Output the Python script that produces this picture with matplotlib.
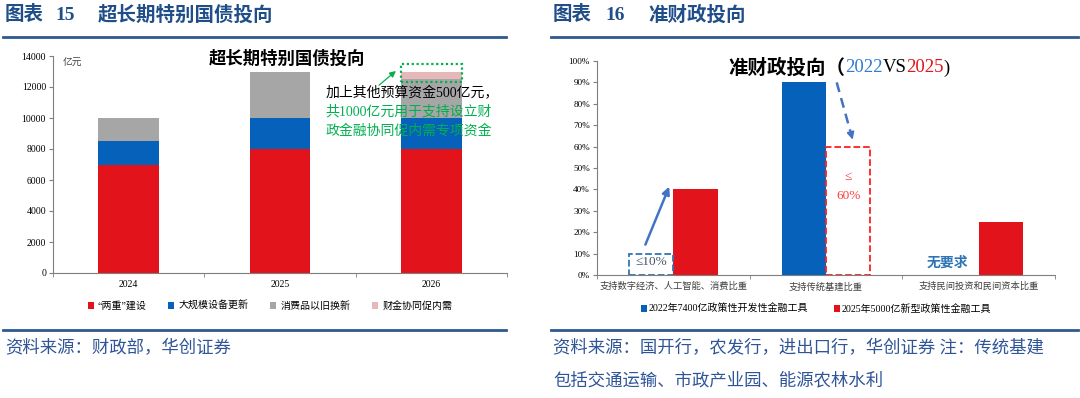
import matplotlib
matplotlib.use("Agg")
import matplotlib.pyplot as plt
from matplotlib.lines import Line2D
from matplotlib.patches import Rectangle
from matplotlib.ticker import FuncFormatter
import numpy as np

plt.rcParams['font.family'] = ['Liberation Serif', 'Noto Sans CJK SC']
plt.rcParams['axes.unicode_minus'] = False

# ---- data: chart 15 (亿元) ----
years = ['2024', '2025', '2026']
two_major = [7000, 8000, 8000]      # “两重”建设
equipment = [1500, 2000, 2000]      # 大规模设备更新
consumer = [1500, 3000, 2500]       # 消费品以旧换新
fiscal_fin = [0, 0, 500]            # 财金协同促内需

# ---- data: chart 16 (%) ----
categories = ['支持数字经济、人工智能、消费比重', '支持传统基建比重', '支持民间投资和民间资本比重']
share_2022 = [np.nan, 90, np.nan]
share_2025 = [40, np.nan, 25]
cap_2022 = [10, np.nan, np.nan]     # ≤10%
cap_2025 = [np.nan, 60, np.nan]     # ≤60%

RED = '#E3131B'
BLUE = '#0561B9'
GRAY = '#A6A6A6'
PINK = '#E6B8B7'
GREEN = '#00B050'
HEAD = '#1F4E89'
SRC = '#2F5597'
SPINE = '#7F7F7F'

W, H = 1080, 398
fig = plt.figure(figsize=(W / 100, H / 100), dpi=100)


def fx(px):
    return px / W


def fy(py):
    return 1 - py / H


def style_axes(ax):
    for s in ['top', 'right']:
        ax.spines[s].set_visible(False)
    for s in ['left', 'bottom']:
        ax.spines[s].set_color(SPINE)
        ax.spines[s].set_linewidth(0.8)
    ax.tick_params(axis='y', length=3, color=SPINE, labelsize=7, pad=2)
    ax.tick_params(axis='x', which='major', length=0, labelsize=7, pad=5)
    ax.tick_params(axis='x', which='minor', length=3, color=SPINE)
    ax.set_xticks([-0.5, 0.5, 1.5, 2.5], minor=True)
    ax.set_xlim(-0.5, 2.5)


# ---- headers, rules, sources ----
for x0, x1 in [(3, 506), (551, 1078)]:
    fig.add_artist(Line2D([fx(x0), fx(x1)], [fy(37), fy(37)], color='#2E5B8E', lw=2))
    fig.add_artist(Line2D([fx(x0), fx(x1)], [fy(330), fy(330)], color='#2E5B8E', lw=2))

fig.text(fx(5), fy(15), '图表', fontsize=14, fontweight='bold', color=HEAD, va='center')
fig.text(fx(55), fy(15), '15', fontsize=14, fontweight='bold', color=HEAD, va='center')
fig.text(fx(98), fy(15), '超长期特别国债投向', fontsize=14, fontweight='bold', color=HEAD, va='center')
fig.text(fx(553), fy(15), '图表', fontsize=14, fontweight='bold', color=HEAD, va='center')
fig.text(fx(605), fy(15), '16', fontsize=14, fontweight='bold', color=HEAD, va='center')
fig.text(fx(648), fy(15), '准财政投向', fontsize=14, fontweight='bold', color=HEAD, va='center')

fig.text(fx(5), fy(349), '资料来源：财政部，华创证券', fontsize=12.5, style='italic',
         color=SRC, va='center')
fig.text(fx(553), fy(349), '资料来源：国开行，农发行，进出口行，华创证券 注：传统基建',
         fontsize=12.5, style='italic', color=SRC, va='center')
fig.text(fx(553), fy(381), '包括交通运输、市政产业园、能源农林水利', fontsize=12.5,
         style='italic', color=SRC, va='center')

# ---- chart 15 ----
ax1 = fig.add_axes([fx(53), fy(273), fx(454), (273 - 56) / H])
x = np.arange(len(years))
bw = 0.4
b1 = np.array(two_major)
b2 = b1 + np.array(equipment)
b3 = b2 + np.array(consumer)
h1 = ax1.bar(x, two_major, bw, color=RED, label='“两重”建设')
h2 = ax1.bar(x, equipment, bw, bottom=b1, color=BLUE, label='大规模设备更新')
h3 = ax1.bar(x, consumer, bw, bottom=b2, color=GRAY, label='消费品以旧换新')
h4 = ax1.bar(x, fiscal_fin, bw, bottom=b3, color=PINK, label='财金协同促内需')
style_axes(ax1)
ax1.set_ylim(0, 14000)
ax1.set_yticks(np.arange(0, 14001, 2000))
ax1.set_xticks(x)
ax1.set_xticklabels(years)
ax1.text(0.022, 0.968, '亿元', transform=ax1.transAxes, fontsize=7, color='#404040',
         va='center')

# dotted box around the 2026 fiscal-finance slice
top = b3[2] + fiscal_fin[2]
ax1.add_patch(Rectangle((x[2] - bw / 2, b3[2] - 200), bw, fiscal_fin[2] + 700, fill=False,
                        edgecolor=GREEN, lw=1.6, linestyle=(0, (1, 1.2))))
ax1.annotate('', xy=(x[2] - 0.22, top + 150), xytext=(1.64, 12000),
             arrowprops=dict(arrowstyle='-|>', color=GREEN, lw=0.9, mutation_scale=9))
ax1.text(1.30, 11620, '加上其他预算资金500亿元，', fontsize=10, color='black', va='center')
ax1.text(1.30, 10390, '共1000亿元用于支持设立财', fontsize=10, color=GREEN, va='center')
ax1.text(1.30, 9160, '政金融协同促内需专项资金', fontsize=10, color=GREEN, va='center')

fig.text(fx(287), fy(59), '超长期特别国债投向', fontsize=12.5, fontweight='bold',
         ha='center', va='center')
fig.legend(handles=[h1, h2, h3, h4], loc='center', bbox_to_anchor=(fx(270), fy(306)),
           ncol=4, frameon=False, fontsize=7.2, handlelength=0.6, handleheight=0.6,
           handletextpad=0.4, columnspacing=2.2)

# ---- chart 16 ----
ax2 = fig.add_axes([fx(597), fy(275), fx(458), (275 - 61) / H])
w = 0.29
g1 = ax2.bar(x - w / 2, share_2022, w, color=BLUE, label='2022年7400亿政策性开发性金融工具')
g2 = ax2.bar(x + w / 2, share_2025, w, color=RED, label='2025年5000亿新型政策性金融工具')
ax2.bar(x - w / 2, cap_2022, w, fill=False, edgecolor='#2E75B6', linestyle='--', lw=1.3)
ax2.bar(x + w / 2, cap_2025, w, fill=False, edgecolor='#FF2020', linestyle='--', lw=1.3)
style_axes(ax2)
ax2.set_ylim(0, 100)
ax2.set_yticks(np.arange(0, 101, 10))
ax2.yaxis.set_major_formatter(FuncFormatter(lambda v, p: '%d%%' % v))
ax2.tick_params(axis='y', labelsize=6.6)
ax2.set_xticks(x)
ax2.set_xticklabels(categories, fontsize=6.7, color='#404040')

ax2.text(x[0] - w / 2, cap_2022[0] / 2 + 1, '≤10%', fontsize=9.5, color='#44546A',
         ha='center', va='center')
ax2.text(x[1] + w / 2, 46, '≤', fontsize=9.5, color='#FF3B3B', ha='center', va='center')
ax2.text(x[1] + w / 2, 37, '60%', fontsize=9.5, color='#FF3B3B', ha='center', va='center')
ax2.text(x[2] - w / 2 - 0.06, 5.6, '无要求', fontsize=10, fontweight='bold', color='#2E75B6',
         ha='center', va='center')

# arrows
ax2.annotate('', xy=(-0.02, 42.5), xytext=(-0.19, 13),
             arrowprops=dict(arrowstyle='-|>', color='#4472C4', lw=1.8, mutation_scale=11))
ax2.plot([1.07, 1.16], [90, 67], color='#4472C4', lw=1.8, linestyle=(0, (4, 2.5)))
ax2.annotate('', xy=(1.18, 62), xytext=(1.16, 67),
             arrowprops=dict(arrowstyle='-|>', color='#4472C4', lw=1.2, mutation_scale=11))

fig.legend(handles=[g1, g2], loc='center', bbox_to_anchor=(fx(816), fy(309)), ncol=2,
           frameon=False, fontsize=7.2, handlelength=0.6, handleheight=0.6,
           handletextpad=0.2, columnspacing=2.5)

# multi-colour title: each piece follows the previous one
prev = fig.text(fx(728), fy(68), '准财政投向（', fontsize=14, fontweight='bold', va='center')
pieces = [('2022', '#2E7BD0'), ('VS', 'black'), ('2025', RED), (')', 'black')]
for piece, col in pieces:
    prev = ax2.annotate(piece, xy=(1, 0.5), xycoords=prev, va='center', ha='left',
                        fontsize=13.5, color=col, annotation_clip=False)

fig.savefig('out.png', dpi=100)
